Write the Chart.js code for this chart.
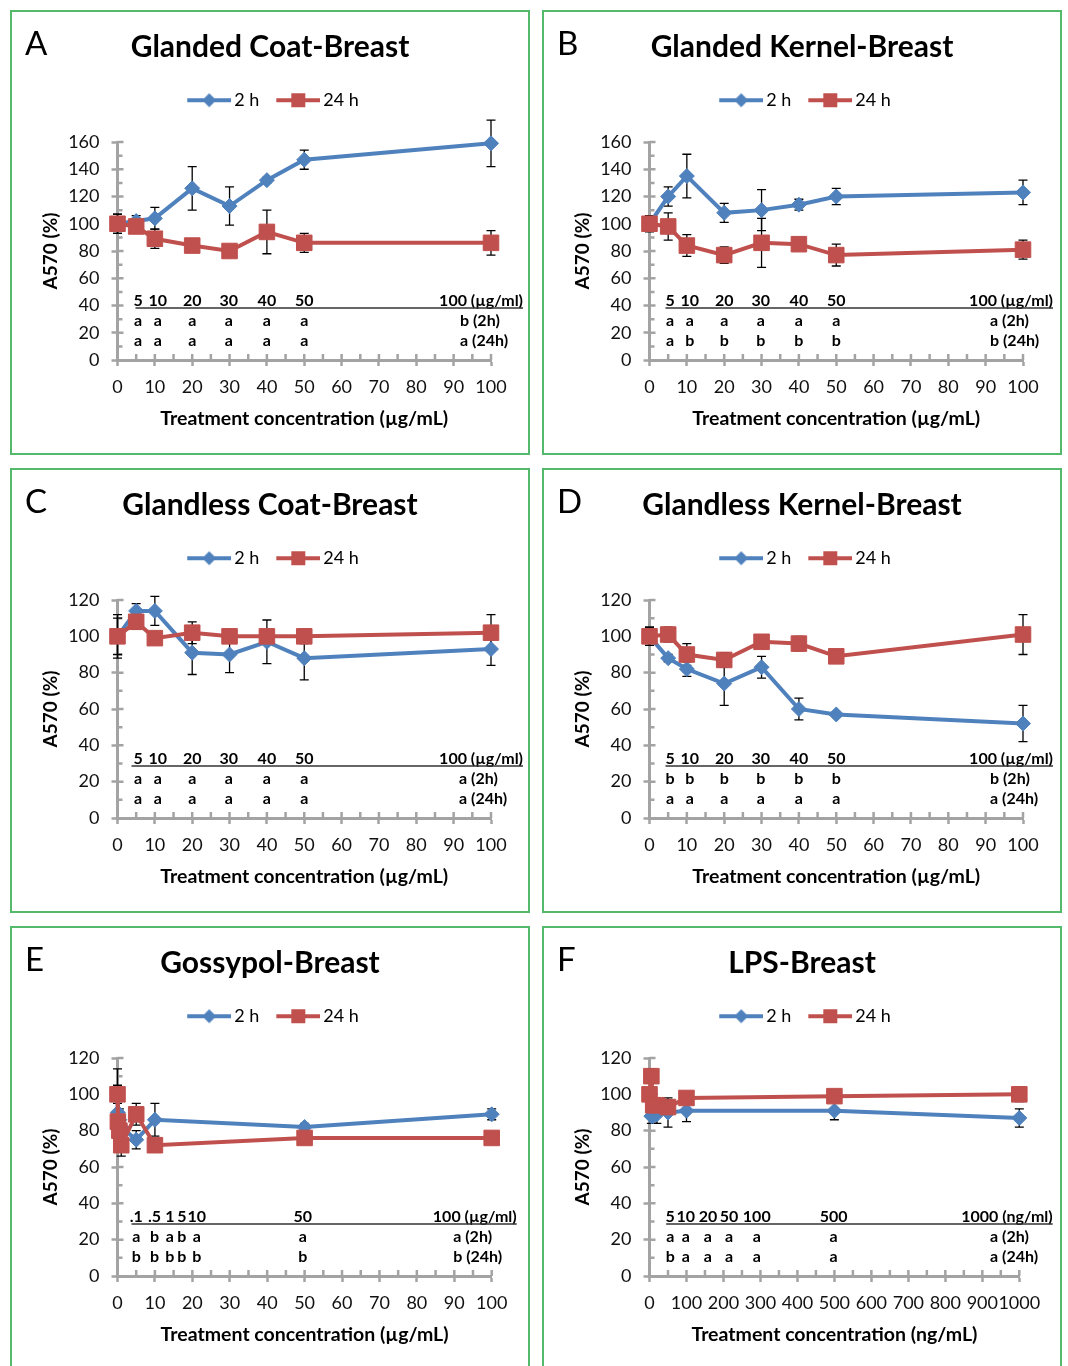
<!DOCTYPE html>
<html>
<head>
<meta charset="utf-8">
<title>A570 of breast cells after treatment</title>
<script src="https://cdn.jsdelivr.net/npm/chart.js@4.4.1/dist/chart.umd.min.js"></script>
<style>
  body { margin: 0; width: 1068px; height: 1366px; overflow: hidden; background: #fff; position: relative; }
  .frame { position: absolute; width: 520px; height: 445px; box-sizing: border-box; border: 2px solid #55b96b; }
  canvas { position: absolute; }
</style>
</head>
<body>
<script>
// concentrations (x)
const concUg = [0, 5, 10, 20, 30, 40, 50, 100];
const concGossypol = [0, 0.1, 0.5, 1, 5, 10, 50, 100];
const concLps = [0, 5, 10, 20, 50, 100, 500, 1000];

// A  Glanded Coat
const a2h = [100, 102, 104, 126, 113, 132, 147, 159];
const a2hErr = [7, 4, 8, 16, 14, 2, 7, 17];
const a24h = [100, 98, 89, 84, 80, 94, 86, 86];
const a24hErr = [7, 3, 7, 1, 1, 16, 7, 9];
// B  Glanded Kernel
const b2h = [100, 120, 135, 108, 110, 114, 120, 123];
const b2hErr = [6, 7, 16, 7, 15, 4, 6, 9];
const b24h = [100, 98, 84, 77, 86, 85, 77, 81];
const b24hErr = [5, 10, 8, 6, 18, 2, 8, 7];
// C  Glandless Coat
const c2h = [100, 114, 114, 91, 90, 97, 88, 93];
const c2hErr = [12, 4, 8, 12, 10, 12, 12, 9];
const c24h = [100, 108, 99, 102, 100, 100, 100, 102];
const c24hErr = [10, 4, 1, 6, 1, 1, 4, 10];
// D  Glandless Kernel
const d2h = [100, 88, 82, 74, 83, 60, 57, 52];
const d2hErr = [5, 2, 4, 12, 6, 6, 1, 10];
const d24h = [100, 101, 90, 87, 97, 96, 89, 101];
const d24hErr = [5, 4, 6, 4, 1, 4, 1, 11];
// E  Gossypol
const e2h = [100, 90, 86, 82, 75, 86, 82, 89];
const e2hErr = [14, 8, 6, 5, 5, 9, 2, 3];
const e24h = [100, 85, 80, 72, 89, 72, 76, 76];
const e24hErr = [5, 6, 6, 6, 6, 1, 1, 1];
// F  LPS
const f2h = [100, 88, 88, 89, 90, 91, 91, 87];
const f2hErr = [3, 4, 4, 5, 8, 6, 5, 5];
const f24h = [100, 110, 94, 94, 93, 98, 99, 100];
const f24hErr = [3, 4, 6, 3, 4, 2, 2, 4];

// significance table under the curves
const doseUg = ['5', '10', '20', '30', '40', '50'];
const doseUgAt = [5.5, 10.8, 20, 29.8, 40, 50];
const doseGossypol = ['.1', '.5', '1', '5', '10', '50'];
const doseGossypolAt = [5, 9.9, 14, 17.2, 21.2, 49.5];
const doseLps = ['5', '10', '20', '50', '100', '500'];
const doseLpsAt = [56, 98, 158, 215, 290, 498];
const sigA2h = ['a', 'a', 'a', 'a', 'a', 'a'];
const sigA24h = ['a', 'a', 'a', 'a', 'a', 'a'];
const sigB2h = ['a', 'a', 'a', 'a', 'a', 'a'];
const sigB24h = ['a', 'b', 'b', 'b', 'b', 'b'];
const sigC2h = ['a', 'a', 'a', 'a', 'a', 'a'];
const sigC24h = ['a', 'a', 'a', 'a', 'a', 'a'];
const sigD2h = ['b', 'b', 'b', 'b', 'b', 'b'];
const sigD24h = ['a', 'a', 'a', 'a', 'a', 'a'];
const sigE2h = ['a', 'b', 'a', 'b', 'a', 'a'];
const sigE24h = ['b', 'b', 'b', 'b', 'b', 'b'];
const sigF2h = ['a', 'a', 'a', 'a', 'a', 'a'];
const sigF24h = ['b', 'a', 'a', 'a', 'a', 'a'];

const BLUE = '#4f81bd', RED = '#c0504d', AXIS = '#a3a3a3';
const FONT = 'Lato, "Open Sans", sans-serif';
Chart.defaults.font.family = FONT;
Chart.defaults.color = '#111';

const panels = [
  { id: 'A', left: 10, top: 10, title: 'Glanded Coat-Breast', x: concUg, y2h: a2h, e2h: a2hErr, y24h: a24h, e24h: a24hErr,
    xMax: 100, xStep: 10, yMax: 160, unit: 'µg/mL', dose: doseUg, doseAt: doseUgAt, sig2h: sigA2h, sig24h: sigA24h,
    endDose: '100 (µg/ml)', end2h: 'b (2h)', end24h: 'a (24h)', endRight: 32, endLeft: 31, lineStart: 18, padRight: 39 },
  { id: 'B', left: 542, top: 10, title: 'Glanded Kernel-Breast', x: concUg, y2h: b2h, e2h: b2hErr, y24h: b24h, e24h: b24hErr,
    xMax: 100, xStep: 10, yMax: 160, unit: 'µg/mL', dose: doseUg, doseAt: doseUgAt, sig2h: sigB2h, sig24h: sigB24h,
    endDose: '100 (µg/ml)', end2h: 'a (2h)', end24h: 'b (24h)', endRight: 30, endLeft: 33, lineStart: 16, padRight: 39 },
  { id: 'C', left: 10, top: 468, title: 'Glandless Coat-Breast', x: concUg, y2h: c2h, e2h: c2hErr, y24h: c24h, e24h: c24hErr,
    xMax: 100, xStep: 10, yMax: 120, unit: 'µg/mL', dose: doseUg, doseAt: doseUgAt, sig2h: sigC2h, sig24h: sigC24h,
    endDose: '100 (µg/ml)', end2h: 'a (2h)', end24h: 'a (24h)', endRight: 32, endLeft: 32, lineStart: 14, padRight: 39 },
  { id: 'D', left: 542, top: 468, title: 'Glandless Kernel-Breast', x: concUg, y2h: d2h, e2h: d2hErr, y24h: d24h, e24h: d24hErr,
    xMax: 100, xStep: 10, yMax: 120, unit: 'µg/mL', dose: doseUg, doseAt: doseUgAt, sig2h: sigD2h, sig24h: sigD24h,
    endDose: '100 (µg/ml)', end2h: 'b (2h)', end24h: 'a (24h)', endRight: 30, endLeft: 33, lineStart: 16, padRight: 39 },
  { id: 'E', left: 10, top: 926, title: 'Gossypol-Breast', x: concGossypol, y2h: e2h, e2h: e2hErr, y24h: e24h, e24h: e24hErr,
    xMax: 100, xStep: 10, yMax: 120, unit: 'µg/mL', dose: doseGossypol, doseAt: doseGossypolAt, sig2h: sigE2h, sig24h: sigE24h,
    endDose: '100 (µg/ml)', end2h: 'a (2h)', end24h: 'b (24h)', endRight: 25, endLeft: 38.5, lineStart: 14, padRight: 38.3 },
  { id: 'F', left: 542, top: 926, title: 'LPS-Breast', x: concLps, y2h: f2h, e2h: f2hErr, y24h: f24h, e24h: f24hErr,
    xMax: 1000, xStep: 100, yMax: 120, unit: 'ng/mL', dose: doseLps, doseAt: doseLpsAt, sig2h: sigF2h, sig24h: sigF24h,
    endDose: '1000 (ng/ml)', end2h: 'a (2h)', end24h: 'a (24h)', endRight: 33.4, endLeft: 29.3, lineStart: 16.7, padRight: 42.7 }
];

// legend swatch: a line with the marker in the middle, like the spreadsheet legend
function legendIcon(color, shape) {
  const c = document.createElement('canvas');
  c.width = 56; c.height = 18;
  const g = c.getContext('2d');
  g.strokeStyle = color; g.fillStyle = color; g.lineWidth = 4;
  g.beginPath(); g.moveTo(12, 9); g.lineTo(56, 9); g.stroke();
  const cx = 34;
  if (shape === 'diamond') {
    g.beginPath(); g.moveTo(cx, 2); g.lineTo(cx + 7, 9); g.lineTo(cx, 16); g.lineTo(cx - 7, 9); g.closePath(); g.fill();
  } else {
    g.fillRect(cx - 7, 2, 14, 14);
  }
  return c;
}
const icon2h = legendIcon(BLUE, 'diamond');
const icon24h = legendIcon(RED, 'square');

function toPoints(xs, ys) {
  return xs.map((v, i) => ({ x: v, y: ys[i] }));
}

// ticks inside the axes, error bars, the letter table and the panel letter
function panelDecor(p) {
  return {
    id: 'panelDecor',
    beforeDatasetsDraw(chart) {
      const { ctx, chartArea: ca, scales: { x, y } } = chart;
      ctx.save();
      ctx.strokeStyle = AXIS;
      ctx.lineWidth = 2.5;
      ctx.beginPath();
      for (let v = 10; v <= p.yMax; v += 10) {
        const py = y.getPixelForValue(v);
        ctx.moveTo(ca.left, py); ctx.lineTo(ca.left + (v % 20 === 0 ? 6 : 5), py);
      }
      for (let v = p.xStep / 2; v <= p.xMax; v += p.xStep / 2) {
        const px = x.getPixelForValue(v);
        ctx.moveTo(px, ca.bottom); ctx.lineTo(px, ca.bottom - 6);
      }
      ctx.stroke();

      ctx.strokeStyle = '#000';
      ctx.lineWidth = 1.3;
      chart.data.datasets.forEach((ds, i) => {
        const meta = chart.getDatasetMeta(i);
        ds.errorBars.forEach((e, j) => {
          if (!e) return;
          const px = meta.data[j].x;
          const top = y.getPixelForValue(ds.data[j].y + e);
          const bot = y.getPixelForValue(ds.data[j].y - e);
          ctx.beginPath();
          ctx.moveTo(px, top); ctx.lineTo(px, bot);
          ctx.moveTo(px - 4.5, top); ctx.lineTo(px + 4.5, top);
          ctx.moveTo(px - 4.5, bot); ctx.lineTo(px + 4.5, bot);
          ctx.stroke();
        });
      });

      const base = ca.bottom;
      ctx.fillStyle = '#000';
      ctx.font = 'bold 16px ' + FONT;
      ctx.textBaseline = 'alphabetic';
      ctx.textAlign = 'center';
      p.dose.forEach((d, k) => {
        const px = x.getPixelForValue(p.doseAt[k]);
        ctx.fillText(d, px, base - 54);
        ctx.fillText(p.sig2h[k], px, base - 34);
        ctx.fillText(p.sig24h[k], px, base - 14.5);
      });
      ctx.textAlign = 'right';
      ctx.fillText(p.endDose, ca.right + p.endRight, base - 54);
      ctx.textAlign = 'left';
      ctx.fillText(p.end2h, ca.right - p.endLeft, base - 34);
      ctx.fillText(p.end24h, ca.right - p.endLeft, base - 14.5);
      ctx.strokeStyle = '#333';
      ctx.lineWidth = 1.5;
      ctx.beginPath();
      ctx.moveTo(ca.left + p.lineStart, base - 52);
      ctx.lineTo(ca.right + p.endRight, base - 52);
      ctx.stroke();
      ctx.restore();
    },
    afterDraw(chart) {
      const ctx = chart.ctx;
      ctx.save();
      ctx.fillStyle = '#000';
      ctx.font = '33px ' + FONT;
      ctx.textAlign = 'left';
      ctx.textBaseline = 'alphabetic';
      ctx.fillText(p.id, 15, 45);
      ctx.restore();
    }
  };
}

panels.forEach(p => {
  const frame = document.createElement('div');
  frame.className = 'frame';
  frame.style.left = p.left + 'px';
  frame.style.top = p.top + 'px';
  document.body.appendChild(frame);
  const canvas = document.createElement('canvas');
  canvas.width = 520; canvas.height = 445;
  canvas.style.left = p.left + 'px';
  canvas.style.top = p.top + 'px';
  document.body.appendChild(canvas);

  new Chart(canvas, {
    type: 'line',
    data: {
      datasets: [{
        label: '2 h', data: toPoints(p.x, p.y2h), errorBars: p.e2h, legendIcon: icon2h,
        borderColor: BLUE, backgroundColor: BLUE, pointBackgroundColor: BLUE, pointBorderColor: BLUE,
        borderWidth: 4, pointStyle: 'rectRot', pointRadius: 7.5, pointBorderWidth: 1, tension: 0, order: 2, clip: false
      }, {
        label: '24 h', data: toPoints(p.x, p.y24h), errorBars: p.e24h, legendIcon: icon24h,
        borderColor: RED, backgroundColor: RED, pointBackgroundColor: RED, pointBorderColor: RED,
        borderWidth: 4, pointStyle: 'rect', pointRadius: 11, pointBorderWidth: 1, tension: 0, order: 1, clip: false
      }]
    },
    options: {
      responsive: false,
      animation: false,
      events: [],
      layout: { padding: 0 },
      plugins: {
        title: {
          display: true, text: p.title, color: '#000',
          font: { size: 30, weight: 'bold', lineHeight: 1.2 },
          padding: { top: 19, bottom: 15.2 }
        },
        legend: {
          display: true, position: 'top',
          labels: {
            usePointStyle: true, pointStyleWidth: 44, padding: 11, color: '#111',
            font: { size: 18 },
            generateLabels: chart => chart.data.datasets.map((ds, i) => ({
              text: ds.label, pointStyle: ds.legendIcon, fillStyle: ds.borderColor,
              strokeStyle: ds.borderColor, lineWidth: 0, hidden: false, datasetIndex: i
            }))
          }
        },
        subtitle: { display: true, text: '', weight: 500, padding: 0, font: { size: 10, lineHeight: '22.8px' } },
        tooltip: { enabled: false }
      },
      scales: {
        x: {
          type: 'linear', position: 'bottom', min: 0, max: p.xMax,
          afterFit: s => { s.height = 95; },
          border: { color: AXIS, width: 3 },
          grid: { drawOnChartArea: false, tickLength: 6, tickColor: AXIS, tickWidth: 2.5 },
          ticks: { stepSize: p.xStep, autoSkip: false, maxRotation: 0, minRotation: 0, padding: 10,
                   color: '#111', font: { size: 18 }, callback: v => String(v) },
          title: { display: true, text: 'Treatment concentration (' + p.unit + ')', color: '#000',
                   font: { size: 19.5, weight: 'bold', lineHeight: 1.2 }, padding: { top: 0, bottom: 25 } }
        },
        y: {
          type: 'linear', position: 'left', min: 0, max: p.yMax,
          afterFit: s => { s.width = 107.5; },
          border: { color: AXIS, width: 3 },
          grid: { drawOnChartArea: false, tickLength: 6, tickColor: AXIS, tickWidth: 2.5 },
          ticks: { stepSize: 20, padding: 12, color: '#111', font: { size: 18 } },
          title: { display: true, text: 'A570 (%)', color: '#000',
                   font: { size: 19, weight: 'bold', lineHeight: 1.2 }, padding: { top: 29, bottom: 0 } }
        },
        // empty strip on the right so the plot ends where the reference plot ends
        yPad: {
          type: 'linear', position: 'right', display: true,
          afterFit: s => { s.width = p.padRight; },
          border: { display: false },
          grid: { display: false, drawTicks: false },
          ticks: { display: false }
        }
      }
    },
    plugins: [panelDecor(p)]
  });
});
</script>
</body>
</html>
